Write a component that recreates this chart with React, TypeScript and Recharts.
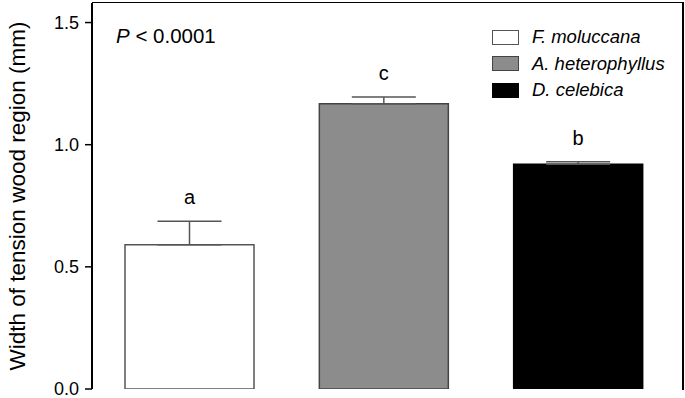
import { Bar, BarChart, Cell, ErrorBar, LabelList, XAxis, YAxis } from "recharts";

const species = ["F. moluccana", "A. heterophyllus", "D. celebica"];
const widths = [0.59, 1.168, 0.92];
const errors = [0.097, 0.027, 0.01];
const letters = ["a", "c", "b"];
const yTicks = [0, 0.5, 1.0, 1.5];

const fills = ["#ffffff", "#8c8c8c", "#000000"];
const strokes = ["#555555", "#444444", "#000000"];

const data = species.map((name, i) => ({
    name,
    width: widths[i],
    err: [0, errors[i]],
}));

const font = "'Liberation Sans', Arial, sans-serif";

const LetterLabel = (props: any) => {
    const { x, y, width, height, index, value } = props;
    const pxPerUnit = height / value;
    const capY = y - errors[index] * pxPerUnit;
    return (
        <text x={x + width / 2} y={capY - 17} textAnchor="middle" fontSize={20} fontFamily={font} fill="#000">
            {letters[index]}
        </text>
    );
};

const SpeciesLegend = () => (
    <div
        style={{
            position: "absolute",
            left: 492,
            top: 24,
            fontFamily: font,
            fontSize: 18.5,
            fontStyle: "italic",
            color: "#000",
            zIndex: 2,
        }}
    >
        {species.map((s, i) => (
            <div key={s} style={{ display: "flex", alignItems: "center", height: 26.5 }}>
                <span
                    style={{
                        display: "inline-block",
                        width: 25,
                        height: 13,
                        background: fills[i],
                        border: `1px solid ${strokes[i]}`,
                        marginRight: 13,
                    }}
                />
                {s}
            </div>
        ))}
    </div>
);

export default function App() {
    return (
        <div style={{ position: "absolute", left: 0, top: 0, width: 685, height: 398, background: "#fff" }}>
            <div
                style={{
                    position: "absolute",
                    left: 116,
                    top: 24,
                    fontFamily: font,
                    fontSize: 20.5,
                    color: "#000",
                    zIndex: 2,
                }}
            >
                <i>P</i> &lt; 0.0001
            </div>
            <SpeciesLegend />
            {/* top and right frame lines */}
            <div
                style={{
                    position: "absolute",
                    left: 92,
                    top: 2,
                    width: 590,
                    height: 387,
                    borderTop: "1.5px solid #000",
                    borderRight: "2px solid #000",
                    pointerEvents: "none",
                    zIndex: 1,
                }}
            />
            <BarChart width={685} height={398} data={data} margin={{ top: 3, right: 2, bottom: 9, left: 0 }}>
                <XAxis
                    dataKey="name"
                    tick={false}
                    tickLine={false}
                    height={0}
                    padding={{ left: 0, right: 8 }}
                    axisLine={{ stroke: "#000", strokeWidth: 2 }}
                />
                <YAxis
                    domain={[0, 1.58]}
                    ticks={yTicks}
                    interval={0}
                    tickFormatter={(v: number) => v.toFixed(1)}
                    width={92}
                    tickSize={7}
                    tickMargin={6}
                    allowDataOverflow
                    axisLine={{ stroke: "#000", strokeWidth: 2 }}
                    tickLine={{ stroke: "#000", strokeWidth: 1.5 }}
                    tick={{ fill: "#000", fontSize: 18, fontFamily: font }}
                    label={{
                        content: () => (
                            <text
                                x={25}
                                y={196}
                                transform="rotate(-90 25 196)"
                                textAnchor="middle"
                                fontSize={22.5}
                                fontFamily={font}
                                fill="#000"
                            >
                                Width of tension wood region (mm)
                            </text>
                        ),
                    }}
                />
                <Bar dataKey="width" barSize={129} isAnimationActive={false} strokeWidth={1.5}>
                    {data.map((d, i) => (
                        <Cell key={d.name} fill={fills[i]} stroke={strokes[i]} />
                    ))}
                    <ErrorBar dataKey="err" width={32} stroke="#555" strokeWidth={1.5} direction="y" />
                    <LabelList dataKey="width" content={<LetterLabel />} />
                </Bar>
            </BarChart>
        </div>
    );
}
